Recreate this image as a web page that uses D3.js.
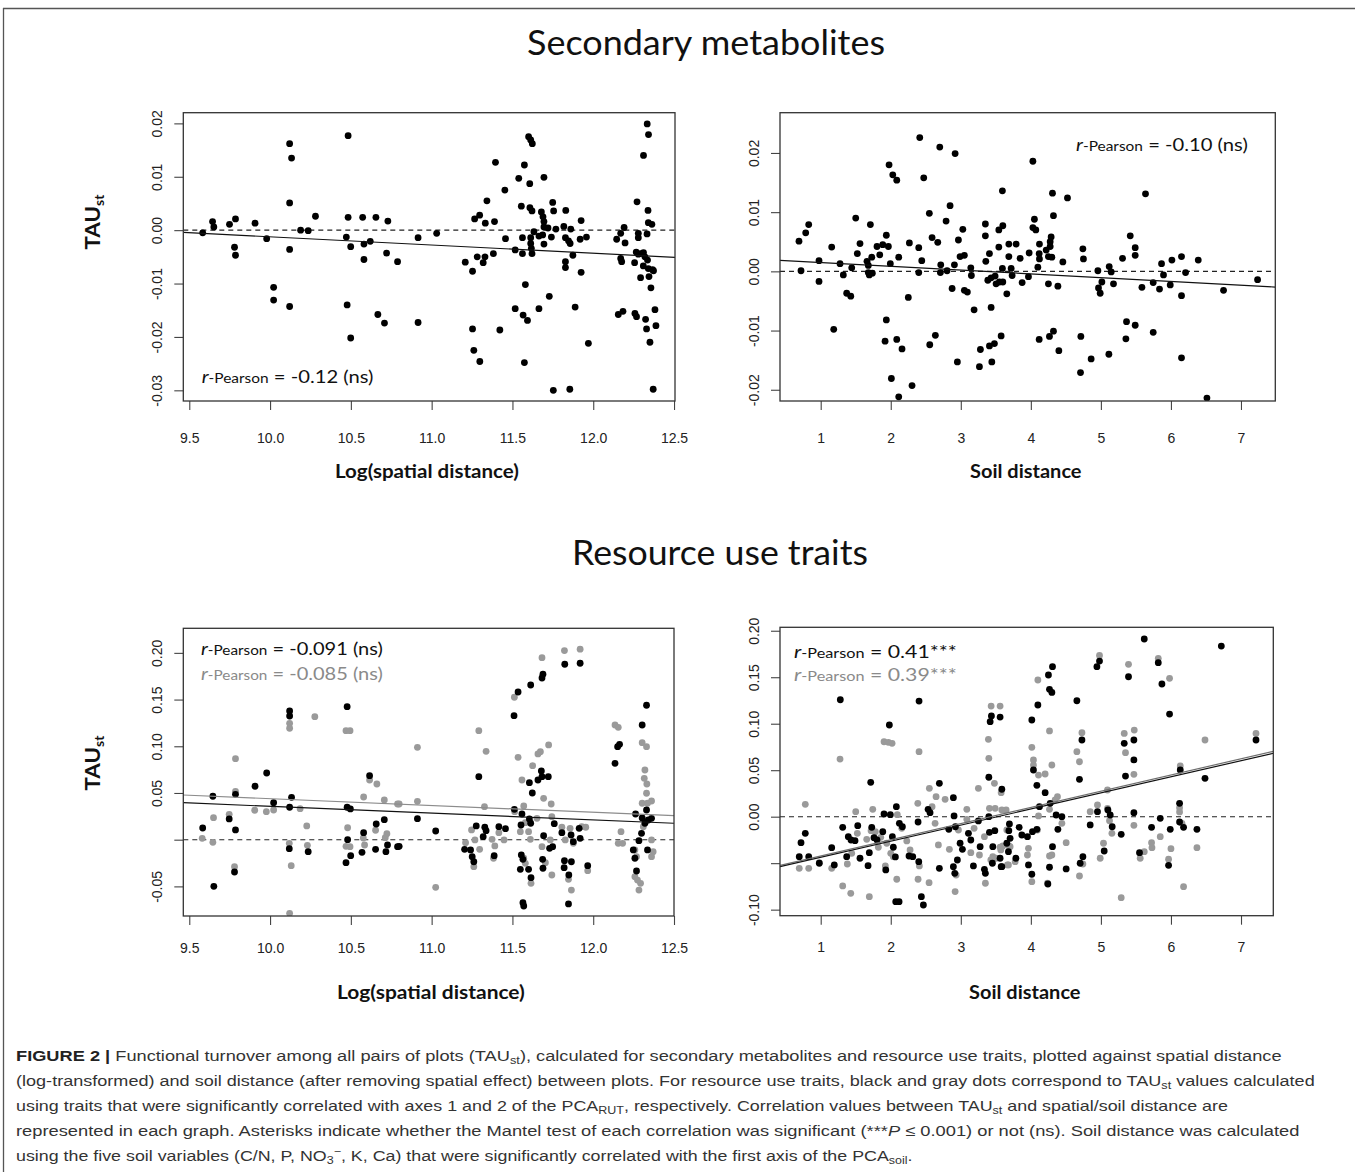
<!DOCTYPE html>
<html>
<head>
<meta charset="utf-8">
<script src="https://cdn.jsdelivr.net/npm/d3@7"></script>
<style>
  html, body { margin: 0; padding: 0; background: #fff; }
  svg { display: block; }
</style>
</head>
<body>
<script>
// ---------------- DATA ----------------
// Panel 1: Secondary metabolites vs Log(spatial distance)
const p1Points = [[9.583,-0.0005],[9.644,0.0016],[9.652,0.0006],[9.749,0.0011],[9.786,0.0021],[9.780,-0.0032],[9.786,-0.0047],[9.907,0.0013],[9.979,-0.0016],[10.022,-0.0107],[10.022,-0.0131],[10.121,0.0162],[10.133,0.0135],[10.121,0.0051],[10.121,-0.0036],[10.121,-0.0143],[10.189,0.0000],[10.236,-0.0001],[10.281,0.0026],[10.483,0.0177],[10.483,0.0024],[10.472,-0.0013],[10.499,-0.0031],[10.477,-0.0140],[10.499,-0.0202],[10.573,0.0024],[10.581,-0.0026],[10.620,-0.0021],[10.581,-0.0055],[10.655,0.0024],[10.729,0.0017],[10.721,-0.0043],[10.667,-0.0158],[10.708,-0.0174],[10.789,-0.0059],
[10.916,-0.0014],[11.031,-0.0006],[10.916,-0.0173],[11.208,-0.0060],[11.253,-0.0077],[11.266,0.0021],[11.297,0.0028],[11.332,0.0013],[11.389,0.0016],[11.342,0.0055],[11.395,0.0127],[11.453,0.0075],[11.282,-0.0050],[11.319,-0.0061],[11.330,-0.0050],[11.382,-0.0044],[11.457,-0.0016],[11.253,-0.0185],[11.261,-0.0225],[11.298,-0.0246],[11.422,-0.0187],[11.517,-0.0037],[11.517,-0.0147],[11.566,-0.0159],[11.593,-0.0169],[11.574,-0.0248],[11.580,-0.0102],[11.539,0.0097],[11.574,0.0122],[11.607,0.0087],[11.555,0.0045],[11.600,0.0175],[11.613,0.0169],[11.623,0.0162],[11.608,0.0042],[11.621,0.0036],[11.562,-0.0014],[11.562,-0.0044],[11.613,-0.0014],[11.613,-0.0025],[11.617,-0.0034],[11.621,-0.0044],[11.633,-0.0003],[11.664,-0.0011],[11.664,-0.0147],[11.679,0.0034],[11.689,0.0025],[11.695,0.0016],[11.695,0.0006],[11.687,-0.0009],[11.695,-0.0026],[11.695,0.0099],[11.728,-0.0124],[11.720,0.0004],[11.741,-0.0013],[11.749,0.0052],[11.755,0.0036],[11.769,0.0002],[11.753,-0.0300],[11.818,0.0007],[11.830,0.0037],[11.828,-0.0014],[11.847,-0.0020],[11.857,-0.0025],[11.861,0.0002],[11.828,-0.0059],[11.828,-0.0070],[11.874,-0.0047],[11.855,-0.0298],[11.888,-0.0144],[11.925,0.0018],[11.919,-0.0017],[11.958,-0.0013],[11.925,-0.0079],[11.970,-0.0212],[12.145,-0.0017],[12.170,-0.0006],[12.191,0.0005],[12.197,-0.0024],[12.170,-0.0053],[12.176,-0.0059],[12.155,-0.0158],[12.184,-0.0152],[12.256,-0.0061],[12.271,0.0053],[12.279,-0.0006],[12.279,-0.0014],[12.266,-0.0041],[12.279,-0.0045],[12.293,-0.0044],[12.311,-0.0042],[12.320,-0.0050],[12.293,-0.0089],[12.258,-0.0156],[12.268,-0.0162],[12.334,0.0199],[12.342,0.0179],[12.311,0.0140],[12.339,0.0037],[12.341,0.0014],[12.363,0.0011],[12.333,-0.0007],[12.336,-0.0056],[12.310,-0.0067],[12.341,-0.0072],[12.367,-0.0074],[12.373,-0.0076],[12.345,-0.0087],[12.357,-0.0108],[12.382,-0.0149],[12.388,-0.0179],[12.324,-0.0167],[12.330,-0.0185],[12.351,-0.0210],[12.371,-0.0298]];

// Panel 2: Secondary metabolites vs Soil distance
const p2Points = [[0.690,0.0051],[0.786,0.0065],[0.829,0.0079],[0.719,0.0001],[0.976,0.0018],[0.976,-0.0017],[1.157,0.0041],[1.186,-0.0098],[1.276,0.0013],[1.323,-0.0006],[1.371,-0.0037],[1.429,-0.0042],[1.443,0.0006],[1.500,0.0090],[1.561,0.0047],[1.523,0.0030],[1.709,0.0079],[1.661,0.0017],[1.680,0.0010],[1.729,0.0024],[1.680,-0.0002],[1.694,-0.0006],[1.737,-0.0003],[1.804,0.0042],[1.843,0.0028],[1.886,0.0045],[1.937,0.0061],[1.966,0.0042],[1.994,0.0013],[1.937,-0.0082],[1.919,-0.0118],[1.976,0.0180],[2.029,0.0163],[2.086,0.0154],[2.086,-0.0115],[2.114,0.0024],[2.161,-0.0131],[2.009,-0.0181],[2.114,-0.0212],[2.251,-0.0044],[2.266,0.0048],[2.304,-0.0193],[2.400,0.0040],[2.414,0.0226],[2.471,0.0158],[2.443,0.0018],[2.400,-0.0002],[2.551,0.0098],[2.590,0.0057],[2.671,0.0049],[2.557,-0.0124],[2.637,-0.0108],[2.700,0.0210],[2.714,0.0011],[2.709,-0.0002],[2.790,0.0085],[2.847,0.0111],[2.804,0.0001],[2.876,-0.0029],[2.909,0.0011],[2.919,0.0199],[2.951,-0.0153],[2.966,0.0053],[2.990,0.0025],[3.029,0.0071],[3.051,0.0027],[3.051,-0.0032],[3.094,-0.0035],[3.143,0.0006],[3.151,-0.0007],[3.190,-0.0065],[3.280,-0.0132],[3.266,-0.0161],[3.351,0.0080],[3.351,0.0060],[3.357,0.0017],[3.409,0.0030],[3.386,-0.0015],[3.433,-0.0061],[3.443,-0.0153],[3.409,-0.0126],[3.480,-0.0122],[3.576,-0.0109],[3.433,-0.0011],[3.490,-0.0008],[3.504,-0.0021],[3.551,-0.0018],[3.600,-0.0018],[3.543,0.0070],[3.600,0.0077],[3.543,0.0041],[3.594,0.0136],[3.594,0.0005],[3.657,-0.0038],[3.686,0.0046],[3.686,0.0025],
[3.790,0.0046],[3.847,0.0022],[3.719,0.0005],[3.733,-0.0007],[3.876,-0.0019],[3.966,-0.0009],[3.976,0.0031],[4.029,0.0186],[4.029,0.0074],[4.051,0.0088],[4.071,0.0070],[4.123,0.0046],[4.119,0.0030],[4.100,0.0007],[4.123,0.0021],[4.219,0.0036],[4.251,0.0025],[4.276,0.0050],[4.290,0.0058],[4.276,0.0042],[4.300,0.0024],[4.323,0.0094],[4.309,0.0132],[4.523,0.0124],[4.457,0.0016],[4.251,-0.0021],[4.386,-0.0025],[4.119,-0.0115],[4.266,-0.0110],[4.323,-0.0101],[4.400,-0.0134],[4.743,0.0038],[4.751,0.0021],[4.714,-0.0110],[4.709,-0.0171],[4.861,-0.0148],[4.957,0.0001],[5.014,-0.0018],[4.966,-0.0028],[4.990,-0.0037],[5.119,0.0008],[5.147,-0.0001],[5.180,-0.0021],[5.114,-0.0140],[5.309,0.0022],[5.419,0.0060],[5.490,0.0040],[5.490,0.0027],[5.637,0.0131],[5.366,-0.0085],[5.490,-0.0091],[5.357,-0.0114],[5.747,-0.0103],[5.586,-0.0027],[5.747,-0.0019],[5.837,-0.0030],[5.866,0.0013],[5.894,-0.0006],[5.990,-0.0023],[6.014,0.0019],[6.151,0.0025],[6.209,-0.0002],[6.151,-0.0041],[6.151,-0.0146],[6.390,0.0019],[6.514,-0.0214],[6.751,-0.0032],[7.237,-0.0014]];

// Panel 3: Resource use traits vs Log(spatial distance) — black (axis 1) and gray (axis 2)
const p3Black = [[9.583,0.0125],[9.646,0.0465],[9.652,-0.0499],[9.747,0.0222],[9.786,0.0486],[9.786,0.0104],[9.780,-0.0346],[9.907,0.0572],[9.979,0.0714],[10.022,0.0396],[10.121,0.1378],[10.121,0.1324],[10.133,0.0454],[10.121,0.0347],[10.119,-0.0096],[10.236,-0.0128],[10.477,0.1424],[10.477,0.0347],[10.497,0.0329],[10.480,0.0000],[10.499,-0.0171],[10.470,-0.0246],[10.616,0.0685],[10.579,0.0075],[10.569,-0.0135],[10.657,0.0168],[10.707,0.0214],[10.653,-0.0103],[10.717,-0.0128],[10.727,-0.0057],[10.789,-0.0075],
[10.799,-0.0071],[10.912,0.0225],[11.025,0.0093],[11.204,-0.0103],[11.241,-0.0110],[11.251,-0.0182],[11.261,-0.0236],[11.276,0.0147],[11.292,0.0675],[11.329,0.0133],[11.337,0.0096],[11.319,0.0032],[11.387,-0.0171],[11.416,0.0139],[11.457,0.0118],[11.510,0.1328],[11.535,0.1581],[11.613,0.1656],[11.683,0.1731],[11.689,0.1771],[11.824,0.1878],[11.919,0.1889],[11.512,0.0325],[11.559,0.0275],[11.605,0.0222],[11.613,0.0176],[11.553,0.0157],[11.605,0.0610],[11.623,0.0500],[11.658,0.0639],[11.679,0.0736],[11.683,0.0675],[11.722,0.0675],[11.555,-0.0164],[11.565,-0.0210],[11.549,-0.0317],[11.600,-0.0317],[11.615,-0.0407],[11.565,-0.0675],[11.570,-0.0710],[11.693,0.0043],[11.687,-0.0210],[11.689,-0.0306],[11.730,-0.0092],[11.749,-0.0075],[11.759,0.0171],[11.822,-0.0225],[11.820,-0.0300],[11.849,-0.0378],[11.865,-0.0236],[11.847,-0.0688],[11.806,0.0075],[11.863,0.0050],[11.877,-0.0021],[11.919,0.0015],[11.913,0.0122],[11.966,-0.0278],[12.135,0.0818],[12.151,0.0996],[12.163,0.1021],[12.248,-0.0110],[12.258,-0.0199],[12.268,-0.0335],[12.283,-0.0011],[12.299,0.0068],[12.262,0.0275],[12.303,0.0232],[12.320,0.0176],[12.330,0.0318],[12.341,0.0211],[12.361,0.0229],[12.303,0.1228],[12.330,0.1439],[12.336,-0.0110]];
const p3Gray = [[9.580,0.0015],[9.650,0.0236],[9.646,-0.0028],[9.747,0.0272],[9.786,0.0867],[9.786,0.0518],[9.780,-0.0289],[9.905,0.0315],[9.977,0.0300],[10.022,0.0318],[10.121,0.1246],[10.121,0.1193],[10.186,0.0332],[10.227,0.0147],[10.231,-0.0060],[10.119,-0.0039],[10.131,-0.0278],[10.121,-0.0788],[10.277,0.1317],[10.470,0.1167],[10.495,0.1167],[10.480,0.0128],[10.470,-0.0071],[10.495,-0.0075],[10.579,0.0457],[10.616,0.0639],[10.661,0.0596],[10.577,0.0018],[10.585,-0.0057],[10.653,0.0101],[10.707,0.0425],[10.723,0.0064],[10.713,0.0021],[10.789,0.0382],
[10.912,0.0989],[10.912,0.0411],[10.799,0.0382],[11.025,-0.0510],[11.210,-0.0032],[11.247,0.0104],[11.268,-0.0003],[11.297,-0.0103],[11.261,-0.0289],[11.292,0.1167],[11.337,0.0946],[11.327,0.0353],[11.374,0.0004],[11.391,-0.0067],[11.383,-0.0199],[11.416,0.0075],[11.448,-0.0003],[11.512,0.1525],[11.535,0.0882],[11.559,0.0639],[11.570,0.0361],[11.514,0.0300],[11.549,0.0086],[11.580,0.0182],[11.600,0.0086],[11.611,0.0004],[11.570,-0.0199],[11.580,-0.0253],[11.615,-0.0467],[11.625,0.0792],[11.658,0.0918],[11.673,0.0942],[11.683,0.1949],[11.724,0.1014],[11.693,0.0443],[11.740,0.0382],[11.652,0.0229],[11.744,0.0246],[11.683,-0.0075],[11.704,-0.0246],[11.744,-0.0378],[11.734,-0.0003],[11.822,0.2024],[11.919,0.2039],[11.806,0.0133],[11.827,-0.0003],[11.857,0.0122],[11.877,-0.0039],[11.929,0.0139],[11.954,0.0133],[11.847,-0.0424],[11.865,-0.0539],[11.966,-0.0332],[12.135,0.1228],[12.155,0.1203],[12.172,0.0086],[12.155,-0.0039],[12.182,-0.0039],[12.258,-0.0110],[12.268,-0.0182],[12.258,-0.0396],[12.274,-0.0432],[12.293,-0.0467],[12.283,-0.0539],[12.303,0.1039],[12.330,0.0996],[12.320,0.0746],[12.316,0.0657],[12.332,0.0596],[12.330,0.0497],[12.303,0.0390],[12.336,0.0390],[12.361,0.0414],[12.310,0.0139],[12.361,-0.0003],[12.371,-0.0128],[12.361,-0.0182]];

// Panel 4: Resource use traits vs Soil distance — black and gray
const p4Black = [[0.719,-0.0280],[0.780,-0.0179],[0.694,-0.0430],[0.829,-0.0430],[0.980,-0.0501],[1.157,-0.0333],[1.194,-0.0519],[1.280,0.1258],[1.314,-0.0114],[1.394,-0.0215],[1.433,-0.0251],[1.490,-0.0258],[1.371,-0.0430],[1.529,-0.0097],[1.561,-0.0447],[1.694,-0.0387],[1.676,-0.0527],[1.714,0.0370],[1.729,-0.0114],[1.761,-0.0226],[1.804,-0.0251],[1.886,-0.0161],[1.904,0.0029],[1.929,-0.0573],[1.980,0.0986],[1.994,0.0022],[2.023,-0.0215],[2.037,-0.0329],[2.080,0.0108],[2.123,-0.0071],[2.166,-0.0108],[2.066,-0.0433],[2.071,-0.0914],[2.119,-0.0914],[2.261,-0.0423],[2.314,-0.0430],[2.404,0.1244],[2.390,-0.0057],[2.400,-0.0484],[2.437,-0.0860],[2.466,-0.0950],[2.533,0.0079],[2.561,0.0043],[2.694,0.0359],[2.694,-0.0555],[2.829,-0.0136],[2.894,0.0204],[2.904,0.0008],[2.923,-0.0108],[2.951,-0.0466],[2.894,-0.0538],[2.914,-0.0609],[2.990,-0.0286],[3.023,-0.0351],[3.109,-0.0179],[3.143,-0.0251],[3.180,-0.0530],[3.251,-0.0046],[3.276,-0.0323],[3.337,-0.0566],[3.351,-0.0609],[3.400,0.0424],[3.400,0.0000],[3.419,0.1022],[3.437,0.1083],[3.409,-0.0168],[3.486,-0.0151],[3.457,-0.0323],[3.451,-0.0501],[3.561,-0.0447],[3.586,0.0295],[3.576,-0.0538],[3.657,-0.0286],[3.686,-0.0151],
[3.561,0.1071],[4.014,0.1040],[4.100,0.1201],[4.251,0.1524],[4.309,0.1613],[4.266,0.1370],[4.300,0.1337],[4.037,0.0502],[4.086,0.0337],[4.204,0.0258],[4.123,0.0108],[4.276,0.0144],[4.361,0.0018],[4.443,0.0000],[4.386,-0.0136],[4.086,-0.0136],[4.023,-0.0161],[3.833,-0.0114],[3.694,-0.0078],[3.871,-0.0197],[3.951,-0.0215],[3.704,-0.0233],[3.680,-0.0376],[3.586,-0.0538],[3.786,-0.0447],[3.966,-0.0519],[4.014,-0.0619],[4.266,-0.0544],[4.309,-0.0323],[4.243,-0.0724],[4.504,-0.0562],[4.657,0.1247],[4.729,0.0825],[4.694,0.0402],[4.743,-0.0430],[4.704,-0.0501],[4.847,-0.0089],[4.951,0.0054],[4.943,0.1613],[4.980,0.1674],[5.100,0.0072],[5.133,0.0018],[5.161,-0.0108],[5.047,-0.0369],[5.290,-0.0190],[5.333,0.0789],[5.351,0.0437],[5.394,0.1505],[5.471,0.0825],[5.471,0.0610],[5.471,0.0043],[5.551,-0.0387],[5.619,0.1911],[5.723,-0.0114],[5.847,-0.0018],[5.819,0.1656],[5.871,0.1427],[5.980,0.1104],[5.990,-0.0136],[5.966,-0.0523],[6.133,0.0502],[6.123,0.0144],[6.123,-0.0057],[6.180,-0.0114],[6.371,-0.0136],[6.486,0.0413],[6.719,0.1835],[7.214,0.0825]];
const p4Gray = [[0.780,0.0133],[0.694,-0.0555],[0.829,-0.0555],[0.980,-0.0494],[1.157,-0.0555],[1.276,0.0620],[1.314,-0.0745],[1.429,-0.0824],[1.380,-0.0509],[1.443,-0.0394],[1.500,0.0054],[1.523,-0.0179],[1.657,-0.0243],[1.694,-0.0860],[1.743,0.0079],[1.719,-0.0151],[1.780,-0.0161],[1.857,-0.0222],[1.823,-0.0329],[1.923,-0.0530],[1.904,0.0806],[1.966,0.0800],[2.019,0.0789],[1.943,-0.0286],[2.000,-0.0394],[2.037,-0.0430],[2.094,0.0022],[2.157,-0.0125],[2.086,-0.0673],[2.229,-0.0261],[2.276,-0.0358],[2.404,0.0699],[2.386,0.0144],[2.409,-0.0530],[2.390,-0.0673],[2.547,-0.0710],[2.551,0.0305],[2.590,0.0108],[2.633,-0.0071],[2.680,-0.0304],[2.647,0.0215],[2.776,0.0187],[2.837,-0.0351],[2.919,-0.0806],[2.933,-0.0627],[2.966,-0.0143],[3.086,0.0079],[3.086,-0.0028],[3.143,-0.0387],[3.190,-0.0125],[3.251,0.0305],[3.266,-0.0412],[3.337,-0.0215],[3.351,-0.0716],[3.394,0.0832],[3.400,0.0628],[3.409,0.0090],[3.429,-0.0466],[3.457,-0.0430],[3.504,-0.0447],[3.490,0.0090],[3.433,0.1190],[3.480,0.0359],[3.576,0.0258],[3.571,-0.0358],[3.600,-0.0315],[3.647,0.0072],[3.657,-0.0143],[3.686,-0.0315],[3.666,-0.0519],
[3.561,0.1190],[4.014,0.0746],[4.037,0.0610],[4.037,0.0556],[4.109,0.0448],[4.204,0.0459],[4.100,0.1470],[4.266,0.0922],[4.300,0.0556],[4.266,0.0079],[4.380,0.0215],[4.347,0.0180],[4.443,-0.0071],[4.109,0.0008],[4.094,-0.0143],[3.966,-0.0340],[3.951,-0.0412],[4.014,-0.0699],[3.704,-0.0323],[3.680,-0.0519],[3.776,-0.0484],[3.561,-0.0329],[3.586,0.0072],[4.266,-0.0423],[4.300,-0.0412],[4.237,-0.0716],[4.504,-0.0280],[4.657,0.0699],[4.694,0.0591],[4.729,0.0903],[4.743,-0.0509],[4.694,-0.0638],[4.847,0.0054],[4.951,0.0126],[4.980,0.1735],[5.094,0.0287],[5.094,0.0090],[5.123,-0.0043],[5.157,-0.0179],[5.037,-0.0286],[4.990,-0.0447],[5.290,-0.0871],[5.333,0.0896],[5.351,0.0688],[5.394,0.1639],[5.476,0.0932],[5.471,0.0456],[5.471,-0.0093],[5.561,-0.0447],[5.619,-0.0376],[5.723,-0.0280],[5.729,-0.0333],[5.819,0.1703],[5.847,-0.0215],[5.980,0.1488],[5.966,-0.0458],[6.000,-0.0344],[6.133,0.0545],[6.123,0.0097],[6.123,0.0051],[6.157,-0.0071],[6.180,-0.0753],[6.371,-0.0333],[6.486,0.0825],[7.214,0.0896]];

// Fitted regression lines [intercept, slope]
const p1Fit = [0.01410, -0.001535];
const p2Fit = [0.00213, -0.000638];
const p3FitBlack = [0.1082, -0.00725];
const p3FitGray = [0.1168, -0.00729];
const p4FitBlack = [-0.0611, 0.01733];
const p4FitGray = [-0.0596, 0.01741];

// Tick values and labels
const spatialTicks = [9.5, 10.0, 10.5, 11.0, 11.5, 12.0, 12.5];
const spatialTickLabels = ["9.5", "10.0", "10.5", "11.0", "11.5", "12.0", "12.5"];
const soilTicks = [1, 2, 3, 4, 5, 6, 7];
const soilTickLabels = ["1", "2", "3", "4", "5", "6", "7"];
const p1YTicks = [-0.03, -0.02, -0.01, 0, 0.01, 0.02];
const p1YTickLabels = ["-0.03", "-0.02", "-0.01", "0.00", "0.01", "0.02"];
const p2YTicks = [-0.02, -0.01, 0, 0.01, 0.02];
const p2YTickLabels = ["-0.02", "-0.01", "0.00", "0.01", "0.02"];
const p3YTicks = [-0.05, 0, 0.05, 0.10, 0.15, 0.20];
const p3YTickLabels = ["-0.05", "", "0.05", "0.10", "0.15", "0.20"];
const p4YTicks = [-0.10, -0.05, 0, 0.05, 0.10, 0.15, 0.20];
const p4YTickLabels = ["-0.10", "", "0.00", "0.05", "0.10", "0.15", "0.20"];

// Annotation texts
const p1Stat = [{ value: " = -0.12 (ns)", color: "black" }];
const p2Stat = [{ value: " = -0.10 (ns)", color: "black" }];
const p3Stat = [{ value: " = -0.091 (ns)", color: "black" }, { value: " = -0.085 (ns)", color: "gray" }];
const p4Stat = [{ value: " = 0.41***", color: "black" }, { value: " = 0.39***", color: "gray" }];

// ---------------- DRAWING ----------------
const W = 1355, H = 1172;
const BLACK = "#000000", GRAY = "#9a9a9a", GRAYTXT = "#8a8a8a";
const TICKFONT = "'Liberation Sans', Arial, sans-serif";
const CAL = "Lato, 'Open Sans', sans-serif";

const svg = d3.select("body").append("svg")
  .attr("width", W).attr("height", H)
  .attr("viewBox", `0 0 ${W} ${H}`);
svg.append("rect").attr("width", W).attr("height", H).attr("fill", "#fff");

// frame lines
svg.append("line").attr("x1", 3).attr("x2", W).attr("y1", 8.5).attr("y2", 8.5)
  .attr("stroke", "#555").attr("stroke-width", 1.3);
svg.append("line").attr("x1", 3.5).attr("x2", 3.5).attr("y1", 8).attr("y2", H)
  .attr("stroke", "#555").attr("stroke-width", 1.3);

// horizontal fit helper
function fitGroup(g, targetW, mode) {
  const bb = g.node().getBBox();
  return bb.width > 0 ? targetW / bb.width : 1;
}

const panels = [
  { id: "p1", xDom: [9.463, 12.506], xRange: [183.3, 675], yDom: [-0.0320, 0.0220], yRange: [401, 112.7],
    xTicks: spatialTicks, xLabels: spatialTickLabels, yTicks: p1YTicks, yLabels: p1YTickLabels,
    xLabY: 41.5, yLabX: -21.6,
    series: [{ pts: p1Points, color: BLACK }],
    fits: [{ c: p1Fit, color: "#111" }],
    stat: p1Stat, statX: 201.7, statY: [383], statW: 172 },
  { id: "p2", xDom: [0.419, 7.49], xRange: [780, 1275.3], yDom: [-0.0219, 0.0268], yRange: [401, 112.7],
    xTicks: soilTicks, xLabels: soilTickLabels, yTicks: p2YTicks, yLabels: p2YTickLabels,
    xLabY: 41.5, yLabX: -20.7,
    series: [{ pts: p2Points, color: BLACK }],
    fits: [{ c: p2Fit, color: "#111" }],
    stat: p2Stat, statX: 1076, statY: [150.5], statW: 172 },
  { id: "p3", xDom: [9.463, 12.5], xRange: [183.3, 674], yDom: [-0.0817, 0.2263], yRange: [916, 628.3],
    xTicks: spatialTicks, xLabels: spatialTickLabels, yTicks: p3YTicks, yLabels: p3YTickLabels,
    xLabY: 36.5, yLabX: -21.6,
    series: [{ pts: p3Gray, color: GRAY }, { pts: p3Black, color: BLACK }],
    fits: [{ c: p3FitGray, color: "#8c8c8c" }, { c: p3FitBlack, color: "#111" }],
    stat: p3Stat, statX: 201, statY: [655, 680], statW: 182 },
  { id: "p4", xDom: [0.419, 7.461], xRange: [780, 1273.3], yDom: [-0.1065, 0.2037], yRange: [915.7, 627.3],
    xTicks: soilTicks, xLabels: soilTickLabels, yTicks: p4YTicks, yLabels: p4YTickLabels,
    xLabY: 36.5, yLabX: -20.7,
    series: [{ pts: p4Gray, color: GRAY }, { pts: p4Black, color: BLACK }],
    fits: [{ c: p4FitGray, color: "#6f6f6f" }, { c: p4FitBlack, color: "#111" }],
    stat: p4Stat, statX: 794, statY: [658, 681], statW: 163 }
];

const defs = svg.append("defs");

panels.forEach(p => {
  const x = d3.scaleLinear().domain(p.xDom).range(p.xRange);
  const y = d3.scaleLinear().domain(p.yDom).range(p.yRange);
  const g = svg.append("g").attr("class", p.id);

  defs.append("clipPath").attr("id", "clip-" + p.id)
    .append("rect")
    .attr("x", p.xRange[0]).attr("y", p.yRange[1])
    .attr("width", p.xRange[1] - p.xRange[0]).attr("height", p.yRange[0] - p.yRange[1]);

  // axes
  const xa = g.append("g").attr("transform", `translate(0,${p.yRange[0]})`)
    .call(d3.axisBottom(x).tickValues(p.xTicks).tickFormat((d, i) => p.xLabels[i]).tickSize(9));
  xa.select(".domain").remove();
  xa.selectAll("line").attr("stroke", "#444").attr("stroke-width", 1.1);
  xa.selectAll("text").attr("y", p.xLabY).attr("dy", null)
    .attr("font-family", TICKFONT).attr("font-size", 14).attr("fill", "#222");

  const ya = g.append("g").attr("transform", `translate(${p.xRange[0]},0)`)
    .call(d3.axisLeft(y).tickValues(p.yTicks).tickFormat((d, i) => p.yLabels[i]).tickSize(9));
  ya.select(".domain").remove();
  ya.selectAll("line").attr("stroke", "#444").attr("stroke-width", 1.1);
  ya.selectAll("text").attr("x", null).attr("dy", null)
    .attr("text-anchor", "middle")
    .attr("transform", `translate(${p.yLabX},0) rotate(-90)`)
    .attr("font-family", TICKFONT).attr("font-size", 14).attr("fill", "#222");

  const plot = g.append("g").attr("clip-path", `url(#clip-${p.id})`);

  // dashed zero line
  plot.append("line")
    .attr("x1", p.xRange[0]).attr("x2", p.xRange[1])
    .attr("y1", y(0)).attr("y2", y(0))
    .attr("stroke", "#222").attr("stroke-width", 1.1).attr("stroke-dasharray", "5,4");

  // points
  p.series.forEach(s => {
    plot.append("g").selectAll("circle").data(s.pts).join("circle")
      .attr("cx", d => x(d[0])).attr("cy", d => y(d[1])).attr("r", 3.4)
      .attr("fill", s.color);
  });

  // fitted lines
  p.fits.forEach(f => {
    const [a, b] = f.c;
    plot.append("line")
      .attr("x1", x(p.xDom[0])).attr("y1", y(a + b * p.xDom[0]))
      .attr("x2", x(p.xDom[1])).attr("y2", y(a + b * p.xDom[1]))
      .attr("stroke", f.color).attr("stroke-width", 1.2);
  });

  // box
  g.append("rect")
    .attr("x", p.xRange[0]).attr("y", p.yRange[1])
    .attr("width", p.xRange[1] - p.xRange[0]).attr("height", p.yRange[0] - p.yRange[1])
    .attr("fill", "none").attr("stroke", "#333").attr("stroke-width", 1.3);

  // stats annotations
  p.stat.forEach((s, i) => {
    const col = s.color === "gray" ? GRAYTXT : "#111";
    const tg = g.append("g");
    const t = tg.append("text").attr("font-family", CAL).attr("fill", col);
    t.append("tspan").attr("font-style", "italic").attr("font-size", 17).text("r");
    t.append("tspan").attr("font-size", 13).text("-Pearson");
    t.append("tspan").attr("font-size", 17).text(s.value);
    const k = fitGroup(tg, p.statW);
    tg.attr("transform", `translate(${p.statX},${p.statY[i]}) scale(${k},1)`);
  });
});

// ---------------- TEXT ----------------
function centeredText(txt, cx, baseline, targetW, size, weight) {
  const tg = svg.append("g");
  tg.append("text").attr("font-family", CAL).attr("font-size", size)
    .attr("font-weight", weight).attr("fill", "#111").text(txt);
  const bb = tg.node().getBBox();
  const k = targetW / bb.width;
  tg.attr("transform", `translate(${cx - targetW / 2},${baseline}) scale(${k},1)`);
}
centeredText("Secondary metabolites", 706, 55, 358, 34, 400);
centeredText("Resource use traits", 720, 565, 296, 34, 400);
centeredText("Log(spatial distance)", 427, 478, 184, 18, 700);
centeredText("Soil distance", 1026, 478, 112, 18, 700);
centeredText("Log(spatial distance)", 431, 999, 188, 18, 700);
centeredText("Soil distance", 1025, 999, 112, 18, 700);

function tauLabel(cy) {
  const tg = svg.append("g");
  const t = tg.append("text").attr("font-family", CAL).attr("font-weight", 700).attr("fill", "#111");
  t.append("tspan").attr("font-size", 21).text("TAU");
  t.append("tspan").attr("font-size", 13).attr("dy", 4).text("st");
  const bb = tg.node().getBBox();
  const k = 55 / bb.width;
  tg.attr("transform", `translate(99.5,${cy + 27.5}) rotate(-90) scale(${k},1)`);
}
tauLabel(222);
tauLabel(763);

// caption
const captionLines = [
  [["b", "FIGURE 2 |"], ["n", " Functional turnover among all pairs of plots (TAU"], ["sub", "st"], ["n", "), calculated for secondary metabolites and resource use traits, plotted against spatial distance"]],
  [["n", "(log-transformed) and soil distance (after removing spatial effect) between plots. For resource use traits, black and gray dots correspond to TAU"], ["sub", "st"], ["n", " values calculated"]],
  [["n", "using traits that were significantly correlated with axes 1 and 2 of the PCA"], ["sub", "RUT"], ["n", ", respectively. Correlation values between TAU"], ["sub", "st"], ["n", " and spatial/soil distance are"]],
  [["n", "represented in each graph. Asterisks indicate whether the Mantel test of each correlation was significant (***"], ["i", "P"], ["n", " \u2264 0.001) or not (ns). Soil distance was calculated"]],
  [["n", "using the five soil variables (C/N, P, NO"], ["sub", "3"], ["sup", "\u2212"], ["n", ", K, Ca) that were significantly correlated with the first axis of the PCA"], ["sub", "soil"], ["n", "."]]
];
const captionEnds = [1282, 1316, 1228, 1300, 913];
const captionBase = [1060.5, 1085.5, 1110.5, 1135.5, 1160.5];

captionLines.forEach((line, li) => {
  const tg = svg.append("g");
  const t = tg.append("text")
    .attr("font-family", "'Liberation Sans Narrow', 'Liberation Sans', Arial, sans-serif")
    .attr("font-size", 15).attr("fill", "#333");
  let shift = 0;
  line.forEach(([kind, str]) => {
    const ts = t.append("tspan").text(str);
    let target = 0;
    if (kind === "b") ts.attr("font-weight", 700).attr("fill", "#222");
    if (kind === "i") ts.attr("font-style", "italic");
    if (kind === "sub") { ts.attr("font-size", 10.5); target = 3; }
    if (kind === "sup") { ts.attr("font-size", 10.5); target = -6; }
    ts.attr("dy", target - shift);
    shift = target;
  });
  const bb = tg.node().getBBox();
  const k = (captionEnds[li] - 16) / bb.width;
  tg.attr("transform", `translate(16,${captionBase[li]}) scale(${k},1)`);
});
</script>
</body>
</html>
